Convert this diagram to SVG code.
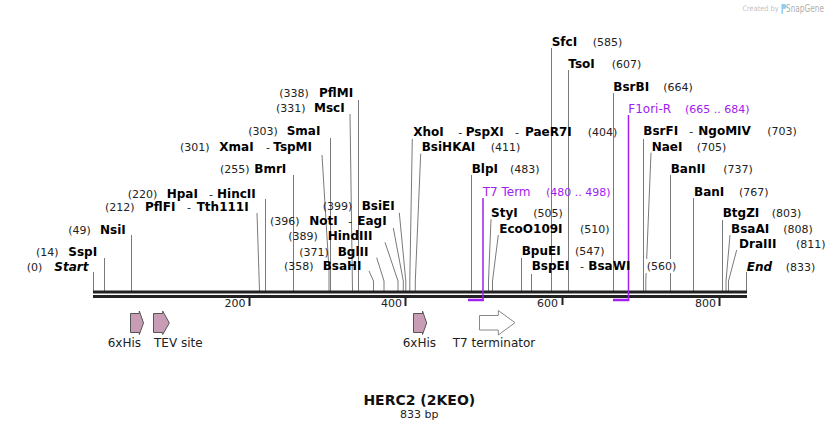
<svg xmlns="http://www.w3.org/2000/svg" width="840" height="430" viewBox="0 0 840 430">
<style>
text{font-family:"DejaVu Sans",Verdana,sans-serif}
.n{font-size:12px;font-weight:bold;fill:#000}
.i{font-style:italic}
.m{font-size:11px;fill:#222}
.pn{font-size:12px;fill:#a020f0}
.pm{font-size:11px;fill:#a020f0}
.f{font-size:12px;fill:#222}
.tk{font-size:11px;fill:#222;text-anchor:end}
.ln{stroke:#7a7a7a;stroke-width:1;fill:none}
.pl{stroke:#a020f0;stroke-width:1.5;fill:none}
.pb{stroke:#a020f0;stroke-width:2.5;fill:none}
.arr{fill:#c89cb4;stroke:#555;stroke-width:1}
.arw{fill:#fff;stroke:#888;stroke-width:1}
.bb{fill:#222}
</style>
<rect width="840" height="430" fill="#fff"/>

<g id="logo">
<text x="742.5" y="10.5" font-family="Liberation Sans, Arial, sans-serif" font-size="7.5" fill="#c4c4c4" textLength="36" lengthAdjust="spacingAndGlyphs">Created by</text>
<path d="M781.5 4 h2.5 a2.5 2.5 0 0 1 0 5 h-1 v5 h-1.5 z" fill="#8fcdf2"/>
<text x="786" y="11.5" font-family="Liberation Sans, Arial, sans-serif" font-size="10" fill="#b0b0b0" textLength="38" lengthAdjust="spacingAndGlyphs">SnapGene</text>
</g>

<g id="connectors">
<path class="ln" d="M93.5 272 V291"/>
<path class="ln" d="M104.5 258 V291"/>
<path class="ln" d="M131.5 235 V291"/>
<path class="ln" d="M257 213 L259.5 291"/>
<path class="ln" d="M265.5 199 V291"/>
<path class="ln" d="M293.5 175 V291"/>
<path class="ln" d="M322 155 L329 270 V291"/>
<path class="ln" d="M330.5 138 V291"/>
<path class="ln" d="M350 114 L352.5 291"/>
<path class="ln" d="M358.5 100 V291"/>
<path class="ln" d="M399.3 212.7 L405.8 281 V291"/>
<path class="ln" d="M393.3 228 L403.3 281 V291"/>
<path class="ln" d="M385 242.3 L398 281 V291"/>
<path class="ln" d="M376.7 257.7 L384 281 V291"/>
<path class="ln" d="M369 271 L373.5 281 V291"/>
<path class="ln" d="M412.3 139 L409.8 281 V291"/>
<path class="ln" d="M420.7 153.7 L415.3 281 V291"/>
<path class="ln" d="M471.5 175 V291"/>
<path class="ln" d="M491 219.3 L488.5 281 V291"/>
<path class="ln" d="M498.3 235 L492.5 281 V291"/>
<path class="ln" d="M521.5 258 V291"/>
<path class="ln" d="M531.5 274 V291"/>
<path class="ln" d="M551.5 48 V291"/>
<path class="ln" d="M568.5 70 V291"/>
<path class="ln" d="M613.5 93 V291"/>
<path class="ln" d="M643.5 139 V291"/>
<path class="ln" d="M651 152.7 L645.8 281 V291"/>
<path class="ln" d="M670.5 175 V291"/>
<path class="ln" d="M693.5 198 V291"/>
<path class="ln" d="M722.5 220 V291"/>
<path class="ln" d="M730 235 L726 281 V291"/>
<path class="ln" d="M736.7 250 L728.5 281 V291"/>
<path class="ln" d="M746.5 272 V291"/>
</g>

<g id="backbone">
<rect class="bb" x="93" y="290.5" width="654" height="3"/>
<rect class="bb" x="93" y="295" width="654" height="3"/>
<rect class="bb" x="248.5" y="298" width="2" height="8"/>
<rect class="bb" x="404.5" y="298" width="2" height="8"/>
<rect class="bb" x="561.5" y="298" width="2" height="7"/>
<rect class="bb" x="718.5" y="298" width="2" height="8"/>
<text class="tk" x="245.5" y="306.5">200</text>
<text class="tk" x="402" y="306.5">400</text>
<text class="tk" x="558" y="306.5">600</text>
<text class="tk" x="716" y="306.5">800</text>
</g>

<g id="primer-T7Term">
<path class="pl" d="M483 198 V301"/>
<path class="pb" d="M468 300 H483.7"/>
<text y="195.7"><tspan class="pn" x="482.7">T7 Term</tspan><tspan class="pm" x="546">(480 .. 498)</tspan></text>
</g>
<g id="primer-F1oriR">
<path class="pl" d="M628.5 115 V301"/>
<path class="pb" d="M613 300 H629.2"/>
<text y="113.3"><tspan class="pn" x="628.3">F1ori-R</tspan><tspan class="pm" x="685">(665 .. 684)</tspan></text>
</g>

<g id="site-Start"><text y="270.5"><tspan class="m" x="26.7">(0)</tspan><tspan class="n i" x="54.3">Start</tspan></text></g>
<g id="site-SspI"><text y="256"><tspan class="m" x="36">(14)</tspan><tspan class="n" x="68.3">SspI</tspan></text></g>
<g id="site-NsiI"><text y="234"><tspan class="m" x="68.3">(49)</tspan><tspan class="n" x="100">NsiI</tspan></text></g>
<g id="site-PflFI"><text y="210.5"><tspan class="m" x="105">(212)</tspan><tspan class="n" x="145">PflFI</tspan><tspan class="m" x="187">-</tspan><tspan class="n" x="196.7">Tth111I</tspan></text></g>
<g id="site-HpaI"><text y="197.5"><tspan class="m" x="127.7">(220)</tspan><tspan class="n" x="166.7">HpaI</tspan><tspan class="m" x="209">-</tspan><tspan class="n" x="217">HincII</tspan></text></g>
<g id="site-BmrI"><text y="172.7"><tspan class="m" x="220">(255)</tspan><tspan class="n" x="254.3">BmrI</tspan></text></g>
<g id="site-XmaI"><text y="150.7"><tspan class="m" x="180">(301)</tspan><tspan class="n" x="219.3">XmaI</tspan><tspan class="m" x="266">-</tspan><tspan class="n" x="273.3">TspMI</tspan></text></g>
<g id="site-SmaI"><text y="135"><tspan class="m" x="248.3">(303)</tspan><tspan class="n" x="286.7">SmaI</tspan></text></g>
<g id="site-MscI"><text y="112.3"><tspan class="m" x="276">(331)</tspan><tspan class="n" x="314">MscI</tspan></text></g>
<g id="site-PflMI"><text y="97.3"><tspan class="m" x="279.3">(338)</tspan><tspan class="n" x="319">PflMI</tspan></text></g>
<g id="site-BsiEI"><text y="210"><tspan class="m" x="322.7">(399)</tspan><tspan class="n" x="361.7">BsiEI</tspan></text></g>
<g id="site-NotI"><text y="225"><tspan class="m" x="270">(396)</tspan><tspan class="n" x="309.3">NotI</tspan><tspan class="m" x="348.3">-</tspan><tspan class="n" x="357.3">EagI</tspan></text></g>
<g id="site-HindIII"><text y="240"><tspan class="m" x="288.3">(389)</tspan><tspan class="n" x="327.7">HindIII</tspan></text></g>
<g id="site-BglII"><text y="255.7"><tspan class="m" x="299.3">(371)</tspan><tspan class="n" x="337.7">BglII</tspan></text></g>
<g id="site-BsaHI"><text y="270"><tspan class="m" x="284">(358)</tspan><tspan class="n" x="322.7">BsaHI</tspan></text></g>

<g id="site-XhoI"><text y="136"><tspan class="n" x="413.3">XhoI</tspan><tspan class="m" x="458.3">-</tspan><tspan class="n" x="465.7">PspXI</tspan><tspan class="m" x="515">-</tspan><tspan class="n" x="525">PaeR7I</tspan><tspan class="m" x="587.7">(404)</tspan></text></g>
<g id="site-BsiHKAI"><text y="150.7"><tspan class="n" x="421.7">BsiHKAI</tspan><tspan class="m" x="490.7">(411)</tspan></text></g>
<g id="site-BlpI"><text y="172.7"><tspan class="n" x="471.7">BlpI</tspan><tspan class="m" x="510">(483)</tspan></text></g>
<g id="site-StyI"><text y="217.3"><tspan class="n" x="491">StyI</tspan><tspan class="m" x="533.3">(505)</tspan></text></g>
<g id="site-EcoO109I"><text y="232.7"><tspan class="n" x="499.3">EcoO109I</tspan><tspan class="m" x="580">(510)</tspan></text></g>
<g id="site-BpuEI"><text y="255"><tspan class="n" x="521.7">BpuEI</tspan><tspan class="m" x="575">(547)</tspan></text></g>
<g id="site-BspEI"><rect x="644" y="259" width="34" height="14" fill="#fff"/><text y="270"><tspan class="n" x="531.7">BspEI</tspan><tspan class="m" x="580">-</tspan><tspan class="n" x="588.3">BsaWI</tspan><tspan class="m" x="646.7">(560)</tspan></text></g>
<g id="site-SfcI"><text y="46"><tspan class="n" x="551.7">SfcI</tspan><tspan class="m" x="592.7">(585)</tspan></text></g>
<g id="site-TsoI"><text y="67.7"><tspan class="n" x="568.3">TsoI</tspan><tspan class="m" x="611.7">(607)</tspan></text></g>
<g id="site-BsrBI"><text y="90.7"><tspan class="n" x="613.3">BsrBI</tspan><tspan class="m" x="663.3">(664)</tspan></text></g>
<g id="site-BsrFI"><text y="135"><tspan class="n" x="643.3">BsrFI</tspan><tspan class="m" x="689.3">-</tspan><tspan class="n" x="698.3">NgoMIV</tspan><tspan class="m" x="767.3">(703)</tspan></text></g>
<g id="site-NaeI"><text y="150.7"><tspan class="n" x="651.7">NaeI</tspan><tspan class="m" x="696.7">(705)</tspan></text></g>
<g id="site-BanII"><text y="172.7"><tspan class="n" x="670.7">BanII</tspan><tspan class="m" x="723.3">(737)</tspan></text></g>
<g id="site-BanI"><text y="195.7"><tspan class="n" x="694">BanI</tspan><tspan class="m" x="739">(767)</tspan></text></g>
<g id="site-BtgZI"><text y="217.3"><tspan class="n" x="722.7">BtgZI</tspan><tspan class="m" x="771.7">(803)</tspan></text></g>
<g id="site-BsaAI"><text y="232.7"><tspan class="n" x="731">BsaAI</tspan><tspan class="m" x="783.3">(808)</tspan></text></g>
<g id="site-DraIII"><text y="247.7"><tspan class="n" x="739">DraIII</tspan><tspan class="m" x="796">(811)</tspan></text></g>
<g id="site-End"><text y="270.7"><tspan class="n i" x="746.7">End</tspan><tspan class="m" x="785.7">(833)</tspan></text></g>

<g id="feature-6xHis-1">
<polygon class="arr" points="130.5,313.5 139.3,313.5 139.3,311 143.5,323 139.3,334.5 139.3,332.5 130.5,332.5"/>
<text class="f" x="107.7" y="346.7">6xHis</text>
</g>
<g id="feature-TEV">
<polygon class="arr" points="153.5,313.5 162.7,313.5 162.7,311 169.3,323 162.7,334.5 162.7,332.5 153.5,332.5"/>
<text class="f" x="154" y="346.7">TEV site</text>
</g>
<g id="feature-6xHis-2">
<polygon class="arr" points="413.5,313.5 422.5,313.5 422.5,311 426.7,323 422.5,334.5 422.5,332.5 413.5,332.5"/>
<text class="f" x="402.7" y="346.7">6xHis</text>
</g>
<g id="feature-T7terminator">
<polygon class="arw" points="479.5,315.5 498.3,315.5 498.3,310.5 515,322.7 498.3,335 498.3,330 479.5,330"/>
<text class="f" x="452.7" y="346.7">T7 terminator</text>
</g>

<g id="title">
<text x="419.3" y="404.5" text-anchor="middle" font-size="14" font-weight="bold" fill="#111">HERC2 (2KEO)</text>
<text x="419.2" y="417.5" text-anchor="middle" font-size="11" fill="#222">833 bp</text>
</g>
</svg>
